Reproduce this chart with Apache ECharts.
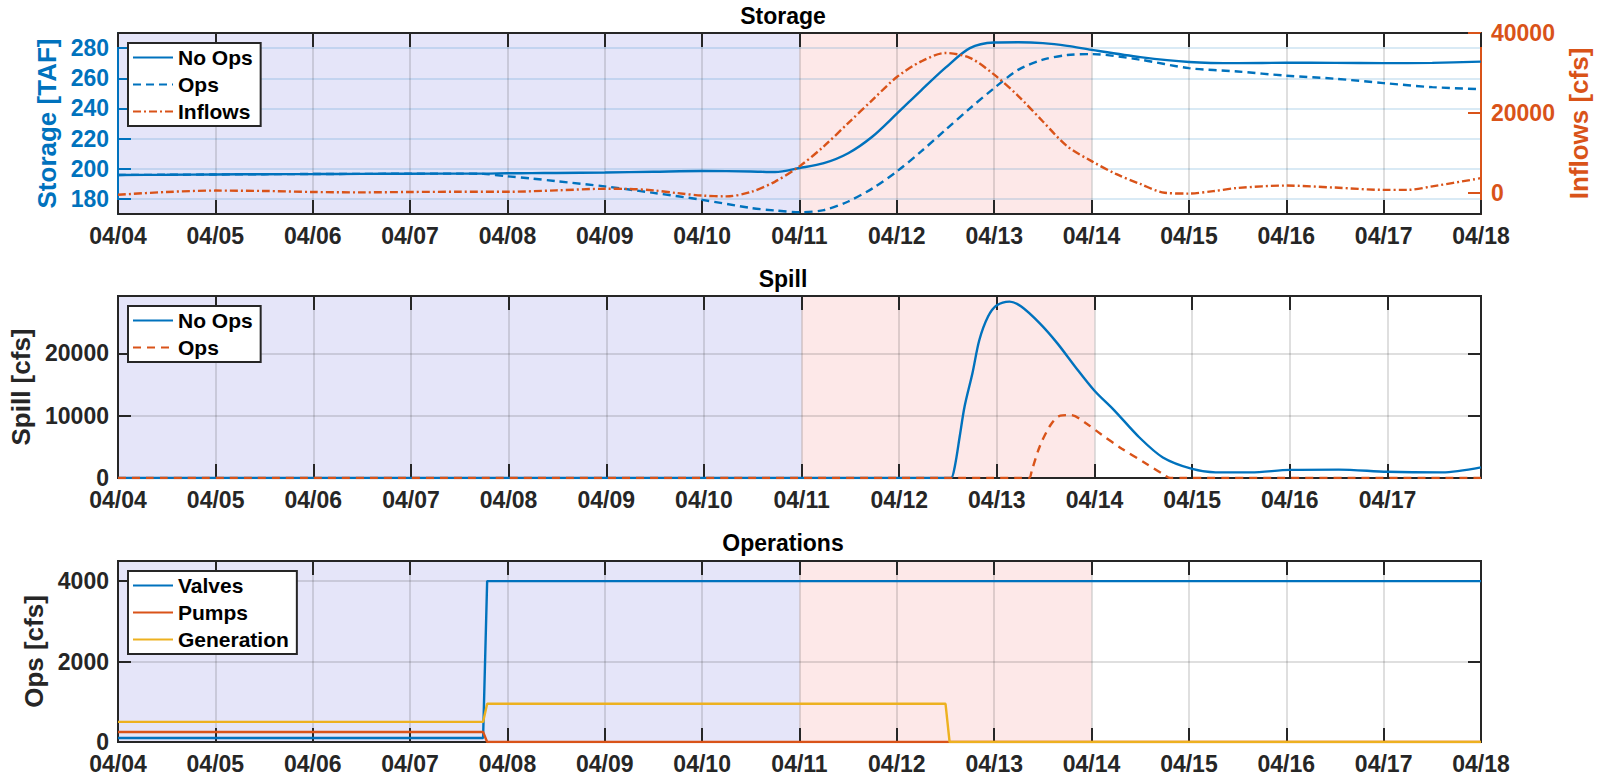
<!DOCTYPE html>
<html>
<head>
<meta charset="utf-8">
<script src="https://cdn.jsdelivr.net/npm/echarts@6/dist/echarts.min.js"></script>
<style>
html,body{margin:0;padding:0;background:#fff;}
#chart{width:1608px;height:776px;}
</style>
</head>
<body>
<div id="chart"></div>
<script>
// ---------------- data ----------------
const dayLabels = ['04/04','04/05','04/06','04/07','04/08','04/09','04/10','04/11','04/12','04/13','04/14','04/15','04/16','04/17','04/18'];
const opsPeriod = ['04/04', '04/11'];
const eventPeriod = ['04/11', '04/14'];

// time in days after 04/04 00:00
const storageT = [0,0.5,1,1.5,2,2.5,3,3.5,3.75,4,4.25,4.5,5,5.5,6,6.5,6.75,7,7.25,7.5,7.75,8,8.25,8.5,8.75,9,9.25,9.5,9.75,10,10.5,11,11.5,12,12.5,13,13.5,14];
const storageNoOps = [195.9,196.0,196.2,196.4,196.5,196.6,196.7,196.8,196.8,197.0,197.1,197.2,197.5,198.0,198.5,198.2,197.8,200.5,203.7,210.3,221.4,236.5,252.0,267.0,280.0,283.7,283.9,283.3,281.5,278.8,274.0,270.8,270.0,270.3,270.2,270.0,270.2,271.0];
const storageOps = [195.9,196.0,196.2,196.4,196.5,196.6,196.7,196.8,196.6,195.0,193.5,191.8,188.3,184.0,179.4,174.0,172.3,171.2,172.6,178.3,187.0,198.2,211.5,225.8,240.0,253.5,265.7,272.3,275.4,276.0,272.3,266.7,264.5,261.7,259.7,256.8,254.1,252.8];

const inflowT = [0,0.5,1,1.5,2,2.5,3,3.5,4,4.5,5,5.25,5.5,5.75,6,6.25,6.5,6.75,7,7.25,7.5,7.75,8,8.25,8.5,8.75,9,9.25,9.5,9.75,10,10.25,10.5,10.75,11,11.25,11.5,12,12.5,13,13.25,13.5,14];
const inflows = [-400,300,650,550,300,200,300,350,350,700,1100,1050,700,0,-600,-800,300,2900,6700,11700,17500,23300,29000,32900,35000,33800,29600,24200,17900,11700,8000,4800,2300,100,-100,500,1300,1900,1400,830,830,1700,3750];

const spillNoOpsT = [0,8.45,8.53,8.57,8.62,8.67,8.75,8.82,8.91,9,9.13,9.25,9.44,9.62,9.8,10,10.2,10.46,10.7,11,11.24,11.6,12,12.5,13,13.56,13.958];
const spillNoOps = [0,0,0,1900,6700,11500,16800,22100,25900,27700,28300,27500,24800,21600,17900,14000,10900,6500,3300,1450,900,900,1300,1350,1000,900,1700];
const spillOpsT = [0,9.25,9.33,9.36,9.44,9.55,9.65,9.76,9.92,10.06,10.28,10.53,10.7,10.78,10.9,13.958];
const spillOps = [0,0,0,1300,5100,8500,10000,10100,8700,7100,4700,2300,640,0,0,0];

const opsT = [0,3.75,3.7917,8.5,8.5417,14];
const valves = [100,100,4000,4000,4000,4000];
const pumps = [250,250,0,0,0,0];
const generation = [500,500,950,950,0,0];

const storageTicks = [180,200,220,240,260,280];
const inflowTicks = [0,20000,40000];
const spillTicks = [0,10000,20000];
const opsTicks = [0,2000,4000];

// ---------------- style ----------------
const FONT = 'Liberation Sans';
const DARK = '#262626';
const BLUE = '#0072BD';
const ORANGE = '#D95319';
const YELLOW = '#EDB120';
const SHADE_BLUE = 'rgba(0,0,200,0.10)';
const SHADE_PINK = 'rgba(230,0,0,0.09)';
const GRID_GRAY = 'rgba(38,38,38,0.15)';
const GRID_BLUE = 'rgba(0,114,189,0.15)';
const LW = 2.4;

const pair = (t, v) => t.map((x, i) => [x, v[i]]);
const dayIdx = s => dayLabels.indexOf(s);
const fmtDay = v => {
  const r = Math.round(v);
  return Math.abs(v - r) < 1e-6 && dayLabels[r] ? dayLabels[r] : '';
};
const fmtNum = v => String(v);

const grids = [
  {left: 118, right: 127, top: 33, height: 181},
  {left: 118, right: 127, top: 296, height: 182},
  {left: 118, right: 127, top: 561, height: 181}
].map(g => Object.assign(g, {
  show: true, borderColor: DARK, borderWidth: 2, backgroundColor: 'transparent',
  containLabel: false, outerBoundsMode: 'none'
}));

function xAxisPair(gi, max) {
  const base = {type: 'value', gridIndex: gi, min: 0, max: max, interval: 1};
  return [
    Object.assign({}, base, {
      position: 'bottom',
      axisLine: {show: true, onZero: false, lineStyle: {color: DARK, width: 2}},
      axisTick: {show: true, inside: true, length: 14, lineStyle: {color: DARK, width: 2}},
      axisLabel: {formatter: fmtDay, margin: 11, lineHeight: 21, color: DARK, fontSize: 23, fontWeight: 'bold', fontFamily: FONT},
      splitLine: {show: true, lineStyle: {color: GRID_GRAY, width: 2}}
    }),
    Object.assign({}, base, {
      position: 'top',
      axisLine: {show: true, onZero: false, lineStyle: {color: DARK, width: 2}},
      axisTick: {show: true, inside: true, length: 14, lineStyle: {color: DARK, width: 2}},
      axisLabel: {show: false},
      splitLine: {show: false}
    })
  ];
}

function yAxisMain(gi, min, max, ticks, color, name, nameGap, gridColor) {
  return {
    type: 'value', gridIndex: gi, position: 'left', min: min, max: max,
    axisLine: {show: true, onZero: false, lineStyle: {color: color, width: 2}},
    axisTick: {show: true, inside: true, length: 13, customValues: ticks, lineStyle: {color: color, width: 2}},
    axisLabel: {customValues: ticks, formatter: fmtNum, color: color, fontSize: 23, lineHeight: 20, fontWeight: 'bold', fontFamily: FONT, margin: 9},
    splitLine: {show: true, lineStyle: {color: gridColor, width: 2}},
    name: name, nameLocation: 'middle', nameRotate: 90, nameGap: nameGap,
    nameTextStyle: {color: color, fontSize: 26, fontWeight: 'bold', fontFamily: FONT}
  };
}
function yAxisRight(gi, min, max, ticks) {
  return {
    type: 'value', gridIndex: gi, position: 'right', min: min, max: max,
    axisLine: {show: true, onZero: false, lineStyle: {color: DARK, width: 2}},
    axisTick: {show: true, inside: true, length: 13, customValues: ticks, lineStyle: {color: DARK, width: 2}},
    axisLabel: {show: false, customValues: ticks},
    splitLine: {show: false}
  };
}

const xAxes = [].concat(xAxisPair(0, 14), xAxisPair(1, 13.958), xAxisPair(2, 14));
const yAxes = [
  yAxisMain(0, 170, 290, storageTicks, BLUE, 'Storage [TAF]', 50, GRID_BLUE),
  {
    type: 'value', gridIndex: 0, position: 'right', min: -5200, max: 40000,
    axisLine: {show: true, onZero: false, lineStyle: {color: ORANGE, width: 2}},
    axisTick: {show: true, inside: true, length: 13, customValues: inflowTicks, lineStyle: {color: ORANGE, width: 2}},
    axisLabel: {customValues: inflowTicks, formatter: fmtNum, color: ORANGE, fontSize: 23, lineHeight: 20, fontWeight: 'bold', fontFamily: FONT, margin: 10},
    splitLine: {show: false},
    name: 'Inflows [cfs]', nameLocation: 'middle', nameRotate: 90, nameGap: 81,
    nameTextStyle: {color: ORANGE, fontSize: 26, fontWeight: 'bold', fontFamily: FONT}
  },
  yAxisMain(1, 0, 29200, spillTicks, DARK, 'Spill [cfs]', 80, GRID_GRAY),
  yAxisRight(1, 0, 29200, spillTicks),
  yAxisMain(2, 0, 4500, opsTicks, DARK, 'Ops [cfs]', 63, GRID_GRAY),
  yAxisRight(2, 0, 4500, opsTicks)
];

function shade(xi, yi) {
  return {
    type: 'line', name: '_shade' + xi, xAxisIndex: xi, yAxisIndex: yi, data: [], z: -1, silent: true,
    markArea: {
      silent: true, z: -1,
      data: [
        [{xAxis: dayIdx(opsPeriod[0]), itemStyle: {color: SHADE_BLUE}}, {xAxis: dayIdx(opsPeriod[1])}],
        [{xAxis: dayIdx(eventPeriod[0]), itemStyle: {color: SHADE_PINK}}, {xAxis: dayIdx(eventPeriod[1])}]
      ]
    }
  };
}
function line(name, xi, yi, data, color, type, smooth) {
  return {
    type: 'line', name: name, xAxisIndex: xi, yAxisIndex: yi, data: data,
    symbol: 'none', smooth: smooth, z: 3,
    lineStyle: {color: color, width: LW, type: type},
    itemStyle: {color: color}
  };
}

const legendCommon = {
  orient: 'vertical', itemWidth: 40, itemHeight: 14, itemGap: 6,
  padding: [4, 8, 4, 4], backgroundColor: '#fff', borderColor: DARK, borderWidth: 2, borderRadius: 0,
  selectedMode: false, formatter: n => n.trim(),
  itemStyle: {opacity: 0, borderWidth: 0},
  textStyle: {fontSize: 21, fontWeight: 'bold', color: '#000', fontFamily: FONT}
};

const titleStyle = {fontSize: 23, fontWeight: 'bold', color: '#000', fontFamily: FONT};

const option = {
  animation: false,
  backgroundColor: '#fff',
  title: [
    {text: 'Storage', left: 783, top: 4, textAlign: 'center', padding: 0, textStyle: titleStyle},
    {text: 'Spill', left: 783, top: 267, textAlign: 'center', padding: 0, textStyle: titleStyle},
    {text: 'Operations', left: 783, top: 531, textAlign: 'center', padding: 0, textStyle: titleStyle}
  ],
  legend: [
    Object.assign({}, legendCommon, {data: ['No Ops', 'Ops', 'Inflows'], left: 128, top: 43}),
    Object.assign({}, legendCommon, {data: ['No Ops ', 'Ops '], left: 128, top: 306}),
    Object.assign({}, legendCommon, {data: ['Valves', 'Pumps', 'Generation'], left: 128, top: 571})
  ],
  grid: grids,
  xAxis: xAxes,
  yAxis: yAxes,
  series: [
    shade(0, 0),
    line('No Ops', 0, 0, pair(storageT, storageNoOps), BLUE, 'solid', 0.3),
    line('Ops', 0, 0, pair(storageT, storageOps), BLUE, [8, 5], 0.3),
    line('Inflows', 0, 1, pair(inflowT, inflows), ORANGE, [8, 3, 2, 3], 0.3),
    shade(2, 2),
    line('No Ops ', 2, 2, pair(spillNoOpsT, spillNoOps), BLUE, 'solid', 0.3),
    line('Ops ', 2, 2, pair(spillOpsT, spillOps), ORANGE, [8, 6], 0.3),
    shade(4, 4),
    line('Valves', 4, 4, pair(opsT, valves), BLUE, 'solid', false),
    line('Pumps', 4, 4, pair(opsT, pumps), ORANGE, 'solid', false),
    line('Generation', 4, 4, pair(opsT, generation), YELLOW, 'solid', false)
  ]
};

const chart = echarts.init(document.getElementById('chart'), null, {renderer: 'svg'});
chart.setOption(option);
</script>
</body>
</html>
